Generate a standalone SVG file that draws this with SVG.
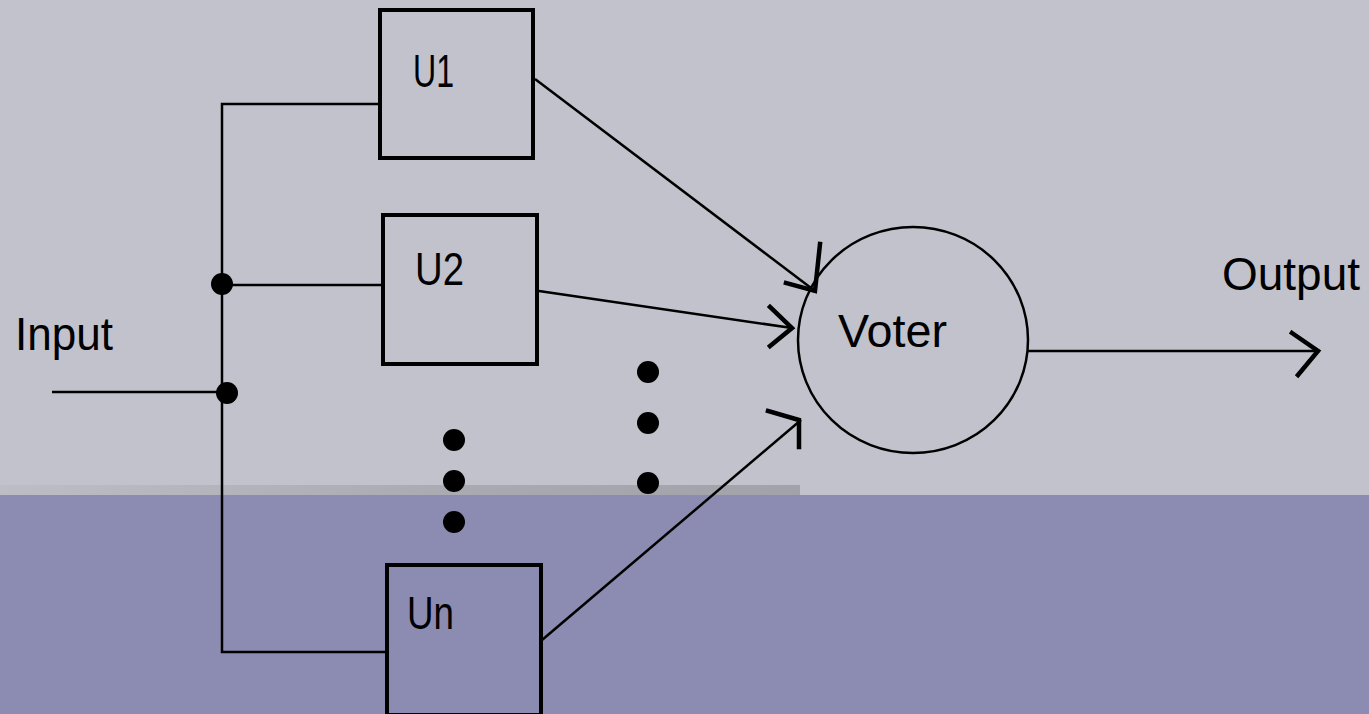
<svg xmlns="http://www.w3.org/2000/svg" width="1369" height="714" viewBox="0 0 1369 714">
<defs>
<linearGradient id="strip" x1="0" y1="0" x2="1" y2="0">
<stop offset="0" stop-color="#BDBDC6"/>
<stop offset="0.6" stop-color="#A9A9B2"/>
<stop offset="1" stop-color="#A2A2AA"/>
</linearGradient>
<style>
.ln{stroke:#000;stroke-width:2.5;fill:none}
.ah{stroke:#000;stroke-width:4.5;fill:none;stroke-linecap:square;stroke-linejoin:miter}
.bx{stroke:#000;stroke-width:4;fill:none}
.dot{fill:#000}
.t{font-family:"Liberation Sans",Arial,sans-serif;font-size:46px;fill:#000}
</style>
</defs>
<rect x="0" y="0" width="1369" height="714" fill="#C2C2CC"/>
<rect x="0" y="485" width="800" height="10" fill="url(#strip)"/>
<rect x="0" y="495" width="1369" height="219" fill="#8C8CB2"/>

<g id="connectors">
<polyline class="ln" points="380,104 222,104 222,652 387,652"/>
<line class="ln" x1="222" y1="285" x2="383" y2="285"/>
<line class="ln" x1="52" y1="392" x2="227" y2="392"/>
<line class="ln" x1="535" y1="79" x2="815" y2="291"/>
<polyline class="ah" points="820,244 815,291 786,283"/>
<line class="ln" x1="539" y1="291" x2="792" y2="328"/>
<polyline class="ah" points="770,307 792,328 770,346"/>
<line class="ln" x1="542" y1="640" x2="801" y2="420"/>
<polyline class="ah" points="768,411 799,420 799,447"/>
<line class="ln" x1="1028" y1="351" x2="1320" y2="351"/>
<polyline class="ah" points="1292,333 1318,351 1298,375"/>
</g>

<g id="junctions">
<circle class="dot" cx="222" cy="284" r="11"/>
<circle class="dot" cx="227" cy="393" r="11"/>
</g>

<g id="dots">
<circle class="dot" cx="454" cy="440" r="11"/>
<circle class="dot" cx="454" cy="481" r="11"/>
<circle class="dot" cx="454" cy="522" r="11"/>
<circle class="dot" cx="648" cy="372" r="11"/>
<circle class="dot" cx="648" cy="423" r="11"/>
<circle class="dot" cx="648" cy="483" r="11"/>
</g>

<g id="u1">
<rect class="bx" x="380" y="10" width="153" height="148"/>
<text class="t" x="413" y="87" textLength="41" lengthAdjust="spacingAndGlyphs">U1</text>
</g>
<g id="u2">
<rect class="bx" x="383" y="215" width="154" height="149"/>
<text class="t" x="415" y="285" textLength="49" lengthAdjust="spacingAndGlyphs">U2</text>
</g>
<g id="un">
<rect class="bx" x="387" y="565" width="154" height="150"/>
<text class="t" x="407" y="629" textLength="47" lengthAdjust="spacingAndGlyphs">Un</text>
</g>
<g id="voter">
<ellipse class="ln" cx="913" cy="340" rx="115" ry="113"/>
<text class="t" x="838" y="347" textLength="109" lengthAdjust="spacingAndGlyphs">Voter</text>
</g>
<g id="input">
<text class="t" x="15" y="350" textLength="98" lengthAdjust="spacingAndGlyphs">Input</text>
</g>
<g id="output">
<text class="t" x="1222" y="290" textLength="138" lengthAdjust="spacingAndGlyphs">Output</text>
</g>
</svg>
